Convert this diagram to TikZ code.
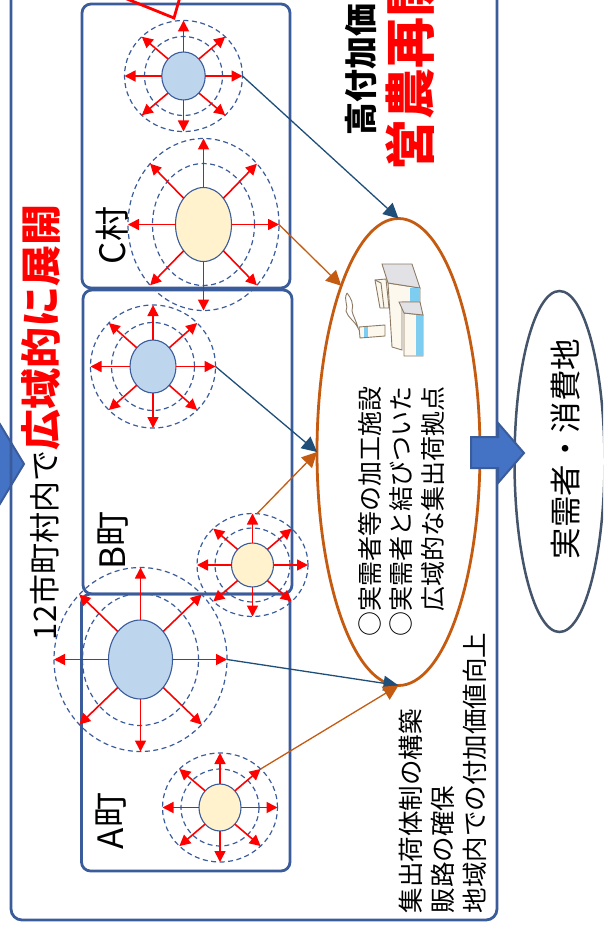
\documentclass[tikz,border=0pt]{standalone}
\usepackage{fontspec}
\setmainfont{Noto Sans CJK JP}
\usetikzlibrary{arrows.meta}
\usetikzlibrary{shapes.geometric}
\definecolor{framing}{RGB}{59, 92, 154}
\definecolor{corecol}{RGB}{189, 214, 238}
\definecolor{creamcol}{RGB}{255, 242, 204}
\definecolor{navyline}{RGB}{31, 78, 121}
\definecolor{rustline}{RGB}{197, 90, 17}
\definecolor{slateline}{RGB}{68, 84, 106}
\definecolor{blockfill}{RGB}{68, 114, 196}
\definecolor{plantline}{RGB}{140, 122, 100}
\definecolor{plantgrey}{RGB}{225, 225, 230}
\definecolor{plantblue}{RGB}{125, 205, 240}
\definecolor{plantwall}{RGB}{252, 248, 238}
\tikzset{
  framebox/.style={draw=framing, line width=2.8pt, rounded corners=9pt},
  oval/.style={ellipse, inner sep=0pt, outer sep=0pt},
  ring/.style={oval, draw=framing, line width=1.2pt, dash pattern=on 5pt off 3.5pt},
  spread/.style={red, line width=1.6pt, -{Triangle[length=11pt,width=11pt]}},
  navylink/.style={navyline, line width=1.3pt, -{Triangle[length=15pt,width=15pt]}},
  rustlink/.style={rustline, line width=1.3pt, -{Triangle[length=15pt,width=15pt]}},
  block/.style={fill=blockfill, draw=framing, line width=2pt},
  vtext/.style={rotate=90, anchor=west, inner sep=0pt, outer sep=0pt, align=left},
  plant/.style={draw=plantline, line width=.9pt}
}
\begin{document}
\begin{tikzpicture}[x=1pt, y=-1pt]
            \clip (0,0) rectangle (603,933);
            \filldraw[block] (-5,416) -- (24,464) -- (-5,512) -- cycle;
            \draw[framebox, rounded corners=11pt] (11,-30) rectangle (497,920);
            \draw[framebox] (82,4) rectangle (290,288);
            \draw[framebox] (83,290) rectangle (292,594);
            \draw[framebox] (81.5,594) rectangle (290,871);
            \draw[red, line width=2.8pt] (122,-3) -- (174,18) -- (180,-3);
            \foreach \n/\cx/\cy/\rx/\ry/\ix/\iy/\ox/\oy/\col in {
                cblue/183.5/76/21.7/24/39/39.5/59/55.5/corecol,
                cyellow/203.5/224.5/28/37/51/61/75.5/86/creamcol,
                bblue/153/366.5/23/26.5/41.5/44/62.5/61.5/corecol,
                byellow/252.5/565/21/22/37.5/37/55.5/51.5/creamcol,
                ablue/140.5/659.5/32/39.5/58/66/86.5/92/corecol,
                ayellow/220/807.5/21/23.5/39/38.5/57.5/54.5/creamcol}{
                \node[ring, minimum width=2*\ix, minimum height=2*\iy] (\n-in) at (\cx,\cy) {};
                \node[ring, minimum width=2*\ox, minimum height=2*\oy] (\n-out) at (\cx,\cy) {};
                \node[oval, draw=framing, line width=1.1pt, fill=\col, minimum width=2*\rx, minimum height=2*\ry] (\n) at (\cx,\cy) {};
                \foreach \d in {north, north east, east, south east, south, south west, west, north west}
                    \draw[spread] (\n.\d) -- (\n-out.\d);
            }
            \node[oval, draw=rustline, line width=2.8pt, minimum width=163pt, minimum height=467pt] (hub) at (398.5,452) {};
            \node[oval, draw=slateline, line width=2.5pt, minimum width=90pt, minimum height=341pt] (market) at (559.5,461.5) {};
            \filldraw[block] (471,437) -- (498,437) -- (498,423) -- (524,453) -- (498,483) -- (498,468) -- (471,468) -- cycle;
            \draw[navylink] (cblue-out.east) -- (hub.north);
            \draw[navylink] (bblue-out.east) -- (hub.west);
            \draw[navylink] (ablue-out.east) -- (hub.south);
            \draw[rustlink] (cyellow-out.east) -- (hub.109);
            \draw[rustlink] (byellow-out.85) -- (hub.west);
            \draw[rustlink] (ayellow-out.north east) -- (hub.south);
            %
            \draw[plant] (347,293) .. controls (343,300) and (349,306) .. (346,311) .. controls (348,318) and (354,320) .. (358,328) .. controls (356,320) and (353,316) .. (352,311) .. controls (354,304) and (351,298) .. (347,293);
            \filldraw[plant, fill=plantwall] (359,327) -- (385,325) -- (385,336) -- (360,338) -- cycle;
            \fill[plantblue] (364,327) rectangle (368,337);
            \filldraw[plant, fill=plantwall] (375,280) -- (386,279) -- (389,308) -- (380,308) -- cycle;
            \draw[plant] (375,280) -- (381,283) -- (384,308);
            \filldraw[plant, fill=plantwall] (388,283) -- (420,288) -- (420,302) -- (402,302) -- (402,350) -- (392,347) -- cycle;
            \filldraw[plant, fill=plantgrey] (382,264) -- (412,264) -- (420,288) -- (388,283) -- cycle;
            \fill[plantblue] (410,288) rectangle (419.5,302);
            \filldraw[plant, fill=plantwall] (404,313) -- (423,315) -- (423,356) -- (404,356) -- cycle;
            \fill[plantblue] (416,315) rectangle (423,356);
            \filldraw[plant, fill=plantgrey] (399,302) -- (420,302) -- (423,315) -- (404,313) -- cycle;
            %
            \node[vtext, font=\fontsize{31}{31}\selectfont] (areaA) at (41,640) {12市町村内で\textcolor{red}{\fontsize{41}{41}\selectfont\bfseries 広域的に展開}};
            \node[vtext, font=\fontsize{33}{33}\selectfont\bfseries] (valueA) at (361,136) {高付加価};
            \node[vtext, font=\fontsize{51}{51}\selectfont\bfseries, text=red] (resume) at (410,171) {営農再開};
            \node[vtext, font=\fontsize{35}{35}\selectfont] (labelc) at (112,264) {C村};
            \node[vtext, font=\fontsize{35}{35}\selectfont] (labelb) at (113,569) {B町};
            \node[vtext, font=\fontsize{35}{35}\selectfont] (labela) at (111,849) {A町};
            \node[vtext, font=\fontsize{25}{31.5}\selectfont] (hubtext) at (401,636) {○実需者等の加工施設\\○実需者と結びついた\\　広域的な集出荷拠点};
            \node[vtext, font=\fontsize{25.5}{32}\selectfont] (effects) at (443,913) {集出荷体制の構築\\販路の確保\\地域内での付加価値向上};
            \node[vtext, font=\fontsize{31.5}{31.5}\selectfont] (markettext) at (566,559) {実需者・消費地};
\end{tikzpicture}
\end{document}
